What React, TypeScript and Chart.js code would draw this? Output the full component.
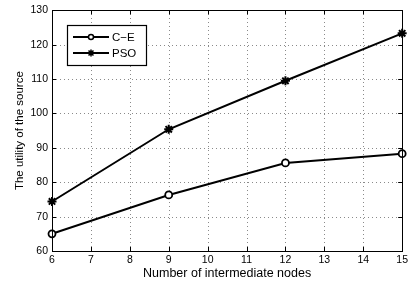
import React, { useEffect, useRef } from "react";
import { Chart, registerables } from "chart.js";

Chart.register(...registerables);

const nodes = [6, 9, 12, 15];
const ceValues = [65.0, 76.3, 85.6, 88.3];
const psoValues = [74.4, 95.4, 109.5, 123.3];
const xTicks = [6, 7, 8, 9, 10, 11, 12, 13, 14, 15];
const yTicks = [60, 70, 80, 90, 100, 110, 120, 130];
const seriesNames = ["C\u2212E", "PSO"];
const xTitle = "Number of intermediate nodes";
const yTitle = "The utility of the source";

const FONT = "'Liberation Sans', Arial, Helvetica, sans-serif";

const gridPlugin = {
  id: "gridPlugin",
  beforeDatasetsDraw(chart: any) {
    const { ctx, chartArea: a, scales } = chart;
    ctx.save();
    ctx.strokeStyle = "#8a8a8a";
    ctx.lineWidth = 1;
    ctx.setLineDash([1, 3]);
    ctx.beginPath();
    for (const v of xTicks) {
      const x = Math.round(scales.x.getPixelForValue(v)) + 0.5;
      ctx.moveTo(x, a.bottom);
      ctx.lineTo(x, a.top);
    }
    for (const v of yTicks) {
      const y = Math.round(scales.y.getPixelForValue(v)) + 0.5;
      ctx.moveTo(a.left, y);
      ctx.lineTo(a.right, y);
    }
    ctx.stroke();
    ctx.restore();
  },
};

const boxPlugin = {
  id: "boxPlugin",
  afterDatasetsDraw(chart: any) {
    const { ctx, chartArea: a, scales } = chart;
    ctx.save();
    ctx.strokeStyle = "#000";
    ctx.lineWidth = 1;
    ctx.strokeRect(Math.round(a.left) + 0.5, Math.round(a.top) + 0.5, Math.round(a.right - a.left), Math.round(a.bottom - a.top));
    const tl = 4;
    ctx.beginPath();
    for (const v of xTicks) {
      const x = Math.round(scales.x.getPixelForValue(v)) + 0.5;
      ctx.moveTo(x, a.bottom);
      ctx.lineTo(x, a.bottom - tl);
      ctx.moveTo(x, a.top);
      ctx.lineTo(x, a.top + tl);
    }
    for (const v of yTicks) {
      const y = Math.round(scales.y.getPixelForValue(v)) + 0.5;
      ctx.moveTo(a.left, y);
      ctx.lineTo(a.left + tl, y);
      ctx.moveTo(a.right, y);
      ctx.lineTo(a.right - tl, y);
    }
    ctx.stroke();

    // legend
    const lx = 67, ly = 25, lw = 79, lh = 40;
    ctx.fillStyle = "#fff";
    ctx.fillRect(lx, ly, lw, lh);
    ctx.lineWidth = 1.2;
    ctx.strokeRect(lx + 0.5, ly + 0.5, lw, lh);
    ctx.font = "11.5px " + FONT;
    ctx.textBaseline = "middle";
    const rows = [ly + 12, ly + 28];
    rows.forEach((ry, i) => {
      ctx.lineWidth = 2;
      ctx.strokeStyle = "#000";
      ctx.beginPath();
      ctx.moveTo(73, ry);
      ctx.lineTo(109, ry);
      ctx.stroke();
      ctx.lineWidth = 1.5;
      if (i === 0) {
        ctx.beginPath();
        ctx.arc(91, ry, 2.5, 0, Math.PI * 2);
        ctx.fillStyle = "#fff";
        ctx.fill();
        ctx.stroke();
      } else {
        ctx.beginPath();
        const r = 3.5;
        for (let k = 0; k < 4; k++) {
          const ang = (k * Math.PI) / 4;
          ctx.moveTo(91 - r * Math.cos(ang), ry - r * Math.sin(ang));
          ctx.lineTo(91 + r * Math.cos(ang), ry + r * Math.sin(ang));
        }
        ctx.stroke();
      }
      ctx.fillStyle = "#000";
      ctx.fillText(seriesNames[i], 112, ry + 0.5);
    });
    ctx.restore();
  },
};

export default function App() {
  const ref = useRef<HTMLCanvasElement | null>(null);
  useEffect(() => {
    if (!ref.current) return;
    const chart = new Chart(ref.current, {
      type: "line",
      data: {
        datasets: [
          {
            label: seriesNames[0],
            data: nodes.map((n, i) => ({ x: n, y: ceValues[i] })),
            borderColor: "#000",
            backgroundColor: "#fff",
            borderWidth: 2,
            pointStyle: "circle",
            pointRadius: 3.5,
            pointBorderWidth: 1.8,
            pointBorderColor: "#000",
            pointBackgroundColor: "#fff",
          },
          {
            label: seriesNames[1],
            data: nodes.map((n, i) => ({ x: n, y: psoValues[i] })),
            borderColor: "#000",
            backgroundColor: "#000",
            borderWidth: 2,
            pointStyle: "star",
            pointRadius: 4.5,
            pointBorderWidth: 2,
            pointBorderColor: "#000",
          },
        ],
      },
      options: {
        animation: false,
        responsive: false,
        maintainAspectRatio: false,
        clip: false as any,
        layout: { padding: { top: 6, right: 8, left: 0, bottom: 0 } },
        plugins: { legend: { display: false }, tooltip: { enabled: false } },
        scales: {
          x: {
            type: "linear",
            min: 6,
            max: 15,
            afterFit: (s: any) => { s.height = 36; },
            afterBuildTicks: (s: any) => { s.ticks = xTicks.map((v) => ({ value: v })); },
            ticks: { color: "#000", font: { family: FONT, size: 10.5 }, padding: 3, maxRotation: 0 },
            grid: { display: false, drawTicks: false, tickLength: 0 },
            border: { display: false },
            title: { display: true, text: xTitle, color: "#000", font: { family: FONT, size: 12.5 }, padding: { top: 0, bottom: 6 } },
          },
          y: {
            type: "linear",
            min: 60,
            max: 130,
            afterFit: (s: any) => { s.width = 52; },
            afterBuildTicks: (s: any) => { s.ticks = yTicks.map((v) => ({ value: v })); },
            ticks: { color: "#000", font: { family: FONT, size: 10.5 }, padding: 4 },
            grid: { display: false, drawTicks: false, tickLength: 0 },
            border: { display: false },
            title: { display: true, text: yTitle, color: "#000", font: { family: FONT, size: 11.5 }, padding: { top: 13, bottom: 0 } },
          },
        },
      },
      plugins: [gridPlugin, boxPlugin],
    });
    return () => chart.destroy();
  }, []);
  return (
    <div style={{ position: "absolute", left: 0, top: 0, width: 411, height: 287, background: "#fff" }}>
      <canvas ref={ref} width={411} height={287} style={{ width: 411, height: 287 }} />
    </div>
  );
}
